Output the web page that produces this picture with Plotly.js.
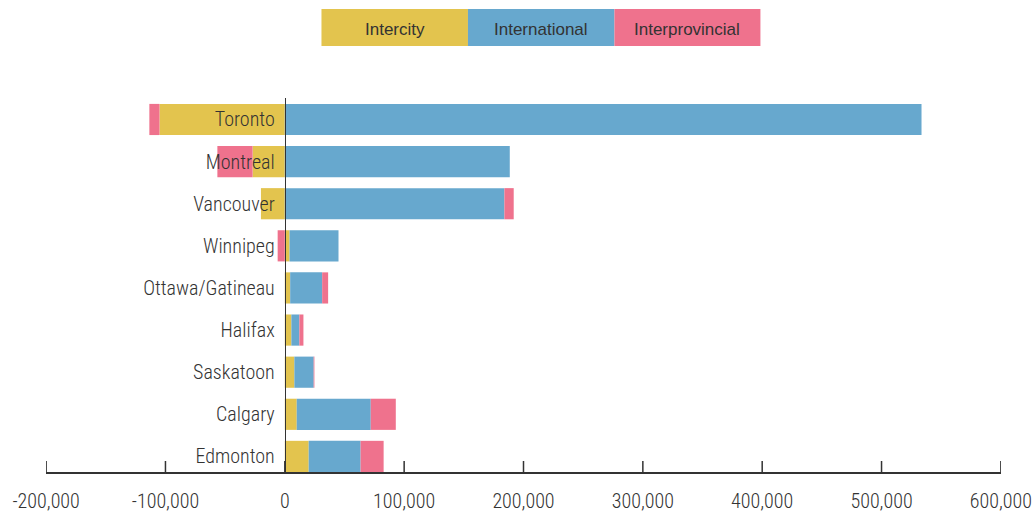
<!DOCTYPE html>
<html>
<head>
<meta charset="utf-8">
<script src="https://cdn.plot.ly/plotly-3.0.1.min.js"></script>
<style>html,body{margin:0;padding:0;background:#fff;}#chart{width:1033px;height:513px;}</style>
</head>
<body>
<div id="chart"></div>
<script>
var cities = ["Toronto","Montreal","Vancouver","Winnipeg","Ottawa/Gatineau","Halifax","Saskatoon","Calgary","Edmonton"];
var intercity = [-105000, -27000, -20000, 4000, 4500, 5500, 8000, 10000, 20000];
var international = [533500, 188500, 184000, 41000, 26800, 6700, 16200, 62000, 43500];
var interprovincial = [-8500, -29500, 7800, -6000, 5000, 3400, 600, 21000, 19300];
var seriesNames = ["Intercity","International","Interprovincial"];
var colors = ["#E3C44E","#67A8CE","#EF728D"];
var tickVals = [-200000,-100000,0,100000,200000,300000,400000,500000,600000];
var tickText = ["-200,000","-100,000","0","100,000","200,000","300,000","400,000","500,000","600,000"];

var condensed = "'Roboto Condensed', 'Liberation Sans Narrow', 'DejaVu Sans Condensed', 'Roboto', sans-serif";
var series = [intercity, international, interprovincial];
var traces = series.map(function(vals, i){
  return {type:"bar", orientation:"h", name:seriesNames[i], x:vals, y:cities,
          marker:{color:colors[i], line:{width:0}}, hoverinfo:"skip", showlegend:false};
});

// legend boxes (pixel -> paper: x=(px-45.5)/955.1, y=(472-py)/374)
var boxEdges = [321, 467.5, 614, 760];
var shapes = [], annotations = [];
seriesNames.forEach(function(n,i){
  var x0 = (boxEdges[i]-45.5)/955.1, x1 = (boxEdges[i+1]-45.5)/955.1;
  shapes.push({type:"rect", xref:"paper", yref:"paper", x0:x0, x1:x1, y0:(472-46)/374, y1:(472-9)/374,
               fillcolor:colors[i], line:{width:0}, layer:"above"});
  annotations.push({text:n, xref:"paper", yref:"paper", x:(x0+x1)/2, y:(472-29.5)/374, xanchor:"center", yanchor:"middle",
          showarrow:false, font:{family:"'Liberation Sans', Arial, sans-serif", size:17, color:"#333"}});
});
// upward tick marks on the x axis, placed at the axis tick values
tickVals.forEach(function(v){
  shapes.push({type:"line", xref:"x", yref:"paper", x0:v, x1:v, y0:0, y1:11/374,
               line:{color:"#333", width:1.5}, layer:"above"});
});

var layout = {
  width:1033, height:513,
  margin:{l:45.5, r:32.4, t:98, b:41, pad:0},
  paper_bgcolor:"#fff", plot_bgcolor:"#fff",
  barmode:"relative", bargap:0.26,
  showlegend:false,
  xaxis:{range:[-200100,600100], tickvals:tickVals, ticktext:tickText, showgrid:false, zeroline:false,
         showline:true, linecolor:"#333", linewidth:1.5, ticks:"",
         ticklabelstandoff:10,
         tickfont:{family:condensed, size:20, weight:300, color:"#333"}, fixedrange:true},
  yaxis:{type:"category", categoryarray:cities, categoryorder:"array", range:[8.37,-0.51],
         anchor:"free", position:0.25, showline:true, linecolor:"#333", linewidth:1.5, showgrid:false, zeroline:false,
         ticks:"", ticklabelstandoff:6, tickfont:{family:condensed, size:20, weight:300, color:"#333"}, fixedrange:true},
  shapes:shapes,
  annotations:annotations
};
Plotly.newPlot("chart", traces, layout, {displayModeBar:false, staticPlot:true});
</script>
</body>
</html>
